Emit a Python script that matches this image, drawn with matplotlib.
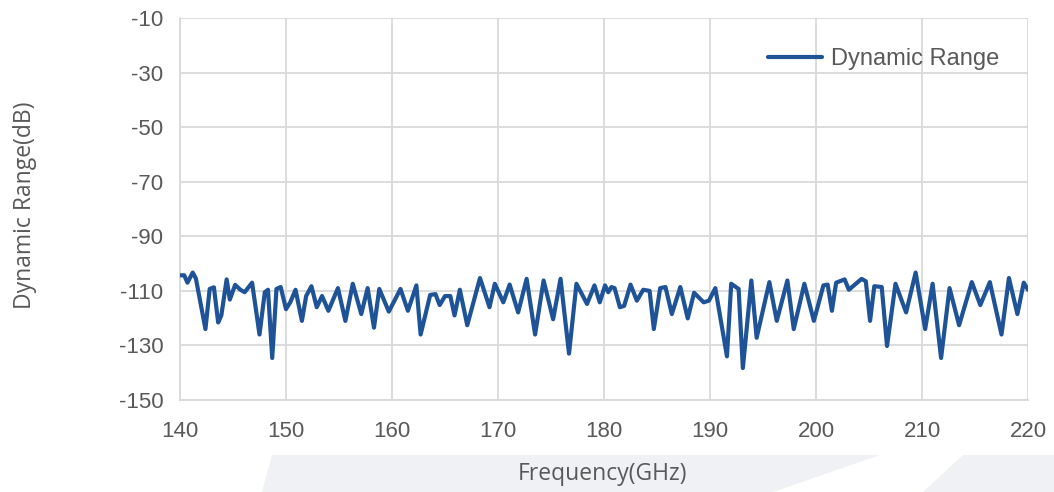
import matplotlib
matplotlib.use("Agg")
import matplotlib.pyplot as plt
from matplotlib.patches import Polygon

freq = [140.0, 140.4, 140.7, 141.2, 141.5, 142.4, 142.8, 143.2, 143.6, 143.9,
        144.4, 144.7, 145.2, 145.7, 146.1, 146.8, 147.5, 148.0, 148.3, 148.7,
        149.1, 149.5, 150.0, 150.4, 150.9, 151.5, 151.9, 152.4, 152.9, 153.4,
        154.0, 154.9, 155.6, 156.3, 157.1, 157.7, 158.3, 158.8, 159.7,
        160.8, 161.5, 162.3, 162.7, 163.6, 164.1, 164.5, 165.0, 165.5, 165.9,
        166.4, 167.1, 168.3, 169.2, 169.7, 170.5, 171.1, 171.9, 172.7, 173.5,
        174.3, 175.2, 175.9, 176.7, 177.4, 178.4, 179.1, 179.6,
        180.1, 180.4, 180.7, 181.0, 181.5, 181.9, 182.5, 183.1, 183.7, 184.3,
        184.7, 185.3, 185.8, 186.4, 187.2, 187.9, 188.5, 189.4, 189.9, 190.5,
        191.6, 192.0, 192.7, 193.1, 193.9, 194.4, 195.6, 196.3, 197.3, 197.9,
        198.9, 199.8,
        200.7, 201.1, 201.5, 201.9, 202.7, 203.1, 204.3, 204.7, 205.1, 205.5,
        206.2, 206.7, 207.5, 208.5, 209.4, 210.3, 211.0, 211.8, 212.6, 213.5,
        214.7, 215.5, 216.4, 217.5, 218.2, 219.0, 219.6, 220.0]

dynamic_range = [-104.3, -104.3, -107.0, -103.3, -105.5, -124.0, -109.3, -108.7, -121.6, -119.0,
                 -105.8, -113.2, -107.8, -109.6, -110.5, -107.0, -126.0, -110.5, -109.6, -134.6,
                 -109.3, -108.6, -116.7, -114.2, -109.6, -121.0, -111.9, -108.3, -116.0, -111.9,
                 -117.3, -109.0, -121.0, -107.4, -118.5, -109.0, -123.5, -109.3, -117.6,
                 -109.3, -117.3, -108.0, -126.0, -111.5, -111.2, -115.2, -111.9, -111.9, -119.0,
                 -109.6, -122.6, -105.3, -116.0, -107.4, -114.2, -107.7, -117.9, -105.6, -126.0,
                 -106.2, -120.4, -105.6, -133.0, -107.4, -114.8, -108.0, -114.2,
                 -108.0, -110.5, -108.6, -109.0, -116.0, -115.5, -107.7, -113.6, -109.6, -110.0,
                 -124.0, -109.0, -108.6, -118.5, -108.6, -120.1, -110.7, -114.2, -113.6, -109.0,
                 -134.0, -107.4, -109.3, -138.3, -106.2, -127.2, -106.8, -121.0, -106.2, -124.0,
                 -107.4, -121.0,
                 -108.0, -107.7, -117.3, -107.0, -105.8, -109.6, -105.6, -106.5, -121.0, -108.3,
                 -108.6, -130.2, -107.4, -117.9, -103.3, -124.0, -107.4, -134.6, -109.0, -122.6,
                 -106.8, -115.2, -106.8, -126.0, -105.3, -118.5, -107.0, -109.6]

x_ticks = [140, 150, 160, 170, 180, 190, 200, 210, 220]
y_ticks = [-150, -130, -110, -90, -70, -50, -30, -10]

W, H = 1054, 492
fig = plt.figure(figsize=(W / 100, H / 100), dpi=100)
fig.patch.set_facecolor("white")

# decorative light band at the bottom
band = "#f0f1f5"
def fx(px):
    return px / W
def fy(py):
    return 1 - py / H
fig.patches.append(Polygon([(fx(272), fy(455)), (fx(880), fy(455)), (fx(773), fy(492)), (fx(262), fy(492))],
                           closed=True, transform=fig.transFigure, facecolor=band, edgecolor="none", zorder=0))
fig.patches.append(Polygon([(fx(963), fy(455)), (fx(1054), fy(455)), (fx(1054), fy(492)), (fx(923), fy(492))],
                           closed=True, transform=fig.transFigure, facecolor=band, edgecolor="none", zorder=0))

ax = fig.add_axes([180 / W, (H - 400) / H, 848 / W, 382 / H])
ax.set_facecolor("none")

grid_c = "#d9d9d9"
ax.plot(freq, dynamic_range, color="#1f5397", lw=3.0, solid_joinstyle="round",
        solid_capstyle="round", label="Dynamic Range", zorder=3)

ax.set_xlim(140, 220)
ax.set_ylim(-150, -10)
ax.set_xticks(x_ticks)
ax.set_yticks(y_ticks)
ax.set_xticklabels([str(v) for v in x_ticks])
ax.set_yticklabels([str(v) for v in y_ticks])
ax.grid(True, color=grid_c, lw=1.3, zorder=0)
ax.set_axisbelow(True)
for s in ["top", "right"]:
    ax.spines[s].set_visible(False)
for s in ["left", "bottom"]:
    ax.spines[s].set_color(grid_c)
    ax.spines[s].set_linewidth(1.3)

tick_font = dict(family=["Liberation Sans", "DejaVu Sans"], size=16, color="#595959")
ax.tick_params(axis="both", length=0)
ax.tick_params(axis="y", pad=12)
ax.tick_params(axis="x", pad=15)
for lab in ax.get_xticklabels() + ax.get_yticklabels():
    lab.set_fontfamily(tick_font["family"])
    lab.set_fontsize(tick_font["size"])
    lab.set_color(tick_font["color"])

fig.text(25 / W, 1 - 205 / H, "Dynamic Range(dB)", rotation=90, ha="center", va="center",
         family=["Open Sans", "DejaVu Sans"], fontsize=16.5, color="#595959")
fig.text(603 / W, 1 - 474 / H, "Frequency(GHz)", ha="center", va="center",
         family=["Open Sans", "DejaVu Sans"], fontsize=16.5, color="#595959")

leg = ax.legend(loc="center right", bbox_to_anchor=(999 / W, 1 - 59 / H),
                bbox_transform=fig.transFigure, frameon=False,
                handlelength=2.3, handletextpad=0.35, borderpad=0, borderaxespad=0,
                prop=dict(family=["Liberation Sans", "DejaVu Sans"], size=17))
for t in leg.get_texts():
    t.set_color("#595959")

fig.savefig("out.png", dpi=100, facecolor="white")
